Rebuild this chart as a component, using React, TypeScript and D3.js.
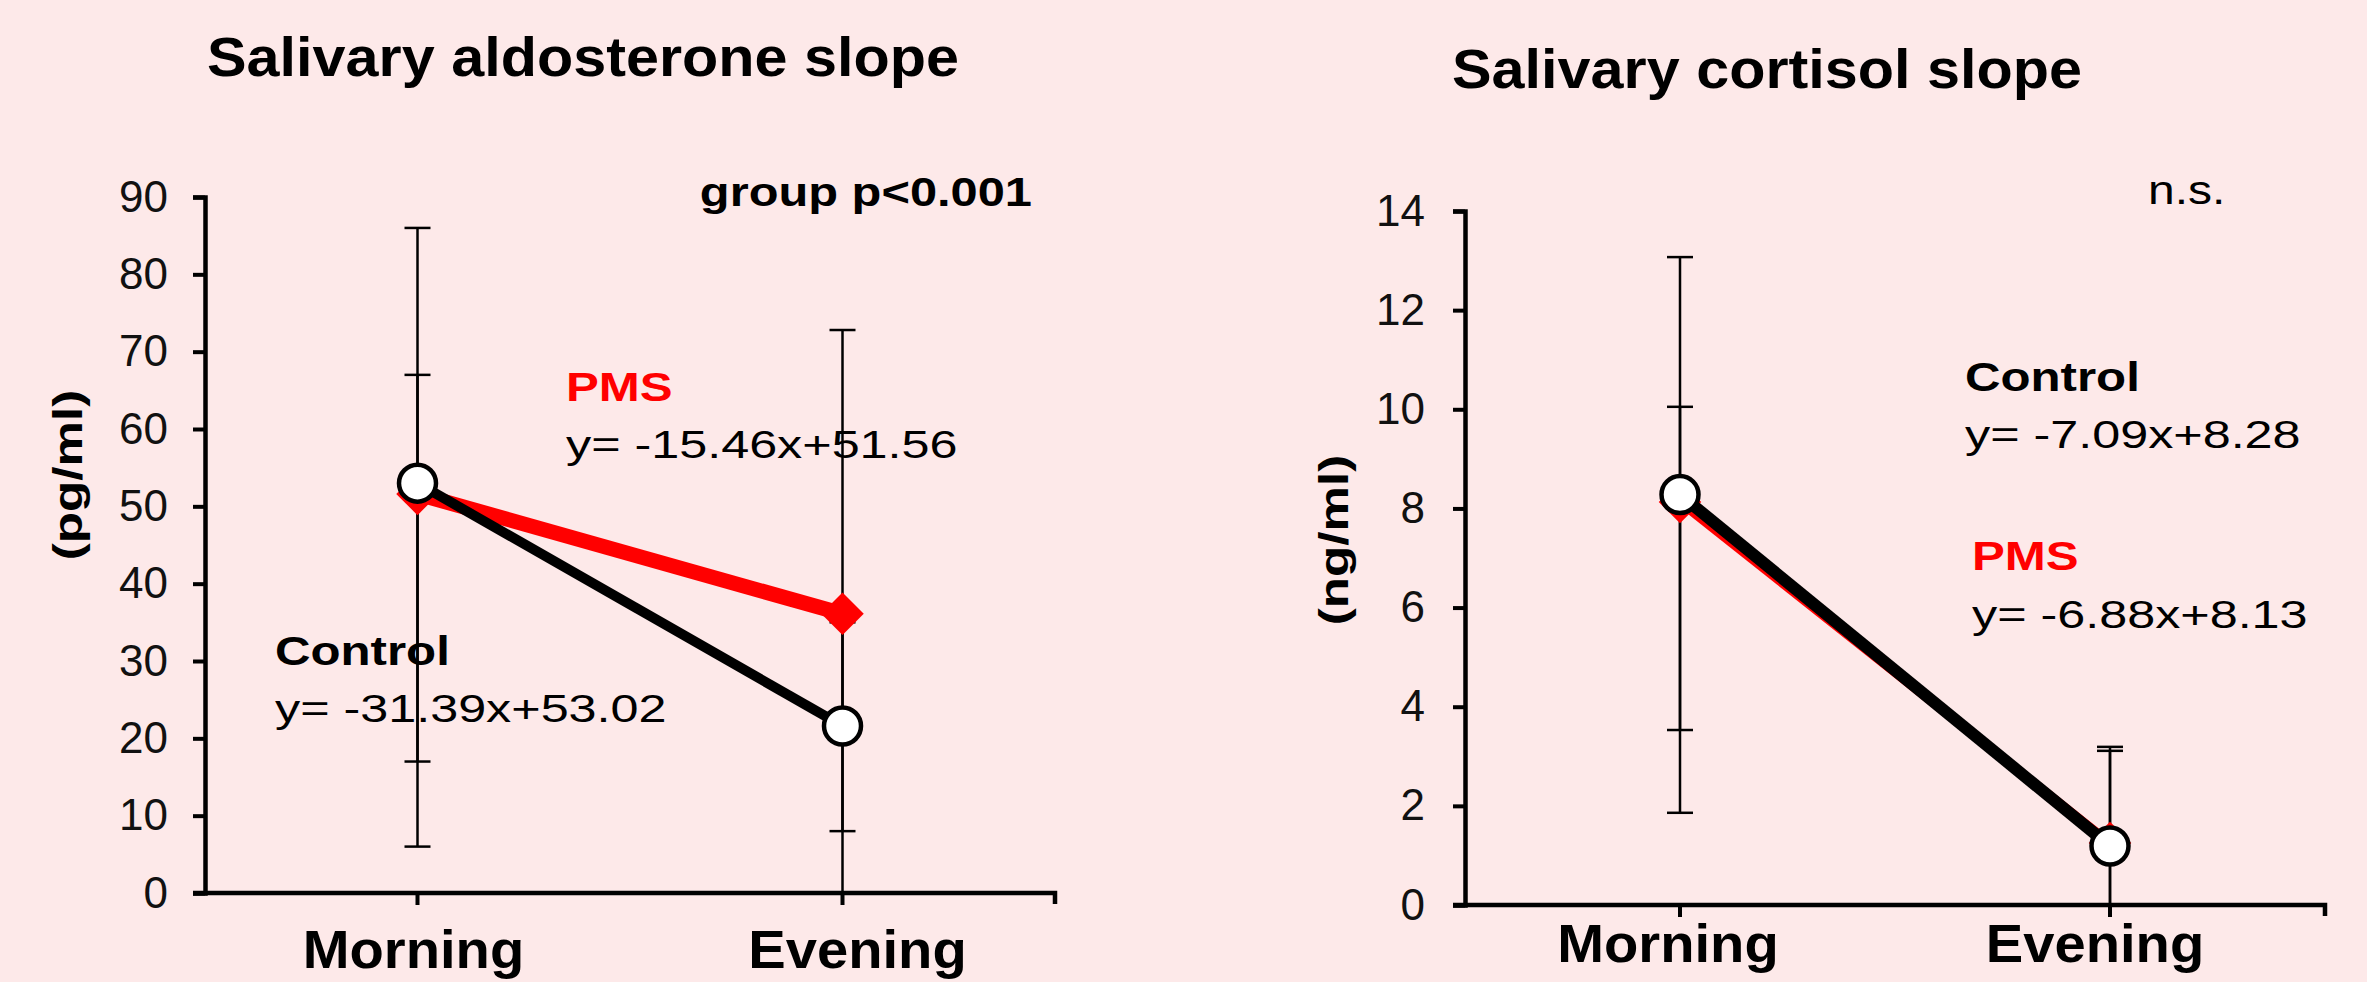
import React, { useEffect, useRef } from 'react'
import * as d3 from 'd3'

const categories = ['Morning', 'Evening']

// salivary aldosterone (pg/ml)
const aldoTicks = [0, 10, 20, 30, 40, 50, 60, 70, 80, 90]
const aldoControl = [53.0, 21.6]
const aldoPms = [51.6, 36.1]
const aldoControlLow = [6, 8]
const aldoControlHigh = [67, 35]
const aldoPmsLow = [17, -1]
const aldoPmsHigh = [86, 72.8]

// salivary cortisol (ng/ml)
const cortTicks = [0, 2, 4, 6, 8, 10, 12, 14]
const cortControl = [8.28, 1.19]
const cortPms = [8.13, 1.25]
const cortControlLow = [3.53, -0.7]
const cortControlHigh = [13.07, 3.11]
const cortPmsLow = [1.86, -0.7]
const cortPmsHigh = [10.05, 3.19]

const FONT = '"Liberation Sans", Arial, sans-serif'
const BG = '#fde9e9'
const RED = '#ff0000'

function addText(g, x, y, str, o: any = {}) {
  g.append('text')
    .attr('transform', `translate(${x},${y}) scale(${o.sx || 1},1)`)
    .attr('text-anchor', o.anchor || 'start')
    .attr('font-family', FONT)
    .attr('font-size', o.size || 38)
    .attr('font-weight', o.bold ? 'bold' : 'normal')
    .attr('fill', o.color || '#000')
    .text(str)
}

function drawPanel(svg, p) {
  const g = svg.append('g')
  const x = d3.scaleBand().domain(categories).range([p.left, p.right])
  const cx = (c) => x(c) + x.bandwidth() / 2
  const y = d3.scaleLinear().domain([0, p.max]).range([p.bottom, p.top])

  // title
  addText(g, p.titleX, p.titleY, p.title, { size: 56, bold: true, sx: 1.06 })

  // y axis
  const ya = g.append('g')
    .attr('transform', `translate(${p.left},0)`)
    .call(d3.axisLeft(y).tickValues(p.ticks).tickSize(12).tickPadding(p.tickPad))
  ya.select('.domain').attr('stroke', '#000').attr('stroke-width', 4.5)
  ya.selectAll('.tick line').attr('stroke', '#000').attr('stroke-width', 4)
  ya.selectAll('.tick text')
    .attr('font-family', FONT)
    .attr('font-size', 44)
    .attr('fill', '#111')

  // x axis
  const xa = g.append('g')
    .attr('transform', `translate(0,${p.bottom})`)
    .call(d3.axisBottom(x).tickSize(12).tickSizeOuter(0))
  xa.select('.domain').remove()
  xa.append('path')
    .attr('d', `M${p.left - 12},0H${p.right}V11`)
    .attr('fill', 'none')
    .attr('stroke', '#000')
    .attr('stroke-width', 4.5)
  xa.selectAll('.tick line').attr('stroke', '#000').attr('stroke-width', 4)
  xa.selectAll('.tick text').remove()
  categories.forEach((c, i) => {
    addText(g, cx(c) + p.labelDx[i], p.labelY, c, { size: 54, bold: true, sx: 1.04, anchor: 'middle' })
  })

  // unit label
  g.append('text')
    .attr('transform', `translate(${p.unitX},${p.unitY}) rotate(-90) scale(1.25,1)`)
    .attr('text-anchor', 'middle')
    .attr('dy', '0.35em')
    .attr('font-family', FONT)
    .attr('font-size', 41)
    .attr('font-weight', 'bold')
    .text(p.unit)

  // error bars
  const drawErr = (low, high) => {
    categories.forEach((c, i) => {
      const lo = Math.max(low[i], 0)
      const px = cx(c)
      g.append('line')
        .attr('x1', px).attr('x2', px)
        .attr('y1', y(lo)).attr('y2', y(high[i]))
        .attr('stroke', '#000').attr('stroke-width', 2.5)
      const caps = low[i] >= 0 ? [low[i], high[i]] : [high[i]]
      caps.forEach((v) => {
        g.append('line')
          .attr('x1', px - 13).attr('x2', px + 13)
          .attr('y1', y(v)).attr('y2', y(v))
          .attr('stroke', '#000').attr('stroke-width', 2.5)
      })
    })
  }
  drawErr(p.controlLow, p.controlHigh)
  drawErr(p.pmsLow, p.pmsHigh)

  const line = d3.line().x((d) => cx(d[0])).y((d) => y(d[1]))

  // PMS series
  g.append('path')
    .datum(categories.map((c, i) => [c, p.pms[i]]))
    .attr('d', line)
    .attr('fill', 'none')
    .attr('stroke', RED)
    .attr('stroke-width', p.redWidth)
  g.selectAll('.pmsMark')
    .data(p.pms)
    .enter()
    .append('path')
    .attr('d', d3.symbol().type(d3.symbolDiamond2).size(1150))
    .attr('transform', (d, i) => `translate(${cx(categories[i])},${y(d)})`)
    .attr('fill', RED)

  // Control series
  g.append('path')
    .datum(categories.map((c, i) => [c, p.control[i]]))
    .attr('d', line)
    .attr('fill', 'none')
    .attr('stroke', '#000')
    .attr('stroke-width', p.blackWidth)
  g.selectAll('.ctlMark')
    .data(p.control)
    .enter()
    .append('circle')
    .attr('cx', (d, i) => cx(categories[i]))
    .attr('cy', (d) => y(d))
    .attr('r', 18.5)
    .attr('fill', '#fff')
    .attr('stroke', '#000')
    .attr('stroke-width', 4.5)

  p.notes.forEach((n) => addText(g, n.x, n.y, n.text, n))
}

export default function App() {
  const ref = useRef(null)

  useEffect(() => {
    const svg = d3.select(ref.current)
    svg.selectAll('*').remove()
    svg.append('rect').attr('width', 2367).attr('height', 982).attr('fill', BG)

    drawPanel(svg, {
      left: 205, right: 1055, top: 197, bottom: 893, max: 90,
      ticks: aldoTicks, tickPad: 25,
      control: aldoControl, pms: aldoPms,
      controlLow: aldoControlLow, controlHigh: aldoControlHigh,
      pmsLow: aldoPmsLow, pmsHigh: aldoPmsHigh,
      redWidth: 15, blackWidth: 10,
      title: 'Salivary aldosterone slope', titleX: 207, titleY: 76,
      unit: '(pg/ml)', unitX: 68, unitY: 475,
      labelY: 968, labelDx: [-4, 15],
      notes: [
        { text: 'group p<0.001', x: 1032, y: 206, bold: true, size: 40, sx: 1.22, anchor: 'end' },
        { text: 'PMS', x: 566, y: 401, bold: true, size: 41, sx: 1.2, color: RED },
        { text: 'y= -15.46x+51.56', x: 566, y: 458, size: 39, sx: 1.29 },
        { text: 'Control', x: 275, y: 665, bold: true, size: 41, sx: 1.2 },
        { text: 'y= -31.39x+53.02', x: 275, y: 722, size: 39, sx: 1.29 },
      ],
    })

    drawPanel(svg, {
      left: 1465, right: 2325, top: 211, bottom: 905, max: 14,
      ticks: cortTicks, tickPad: 28,
      control: cortControl, pms: cortPms,
      controlLow: cortControlLow, controlHigh: cortControlHigh,
      pmsLow: cortPmsLow, pmsHigh: cortPmsHigh,
      redWidth: 9, blackWidth: 12,
      title: 'Salivary cortisol slope', titleX: 1452, titleY: 88,
      unit: '(ng/ml)', unitX: 1334, unitY: 540,
      labelY: 962, labelDx: [-12, -15],
      notes: [
        { text: 'n.s.', x: 2148, y: 204, size: 40, sx: 1.2 },
        { text: 'Control', x: 1965, y: 391, bold: true, size: 41, sx: 1.2 },
        { text: 'y= -7.09x+8.28', x: 1965, y: 448, size: 39, sx: 1.29 },
        { text: 'PMS', x: 1972, y: 570, bold: true, size: 41, sx: 1.2, color: RED },
        { text: 'y= -6.88x+8.13', x: 1972, y: 628, size: 39, sx: 1.29 },
      ],
    })
  }, [])

  return (
    <svg
      ref={ref}
      width={2367}
      height={982}
      style={{ position: 'absolute', left: 0, top: 0, display: 'block' }}
    />
  )
}
